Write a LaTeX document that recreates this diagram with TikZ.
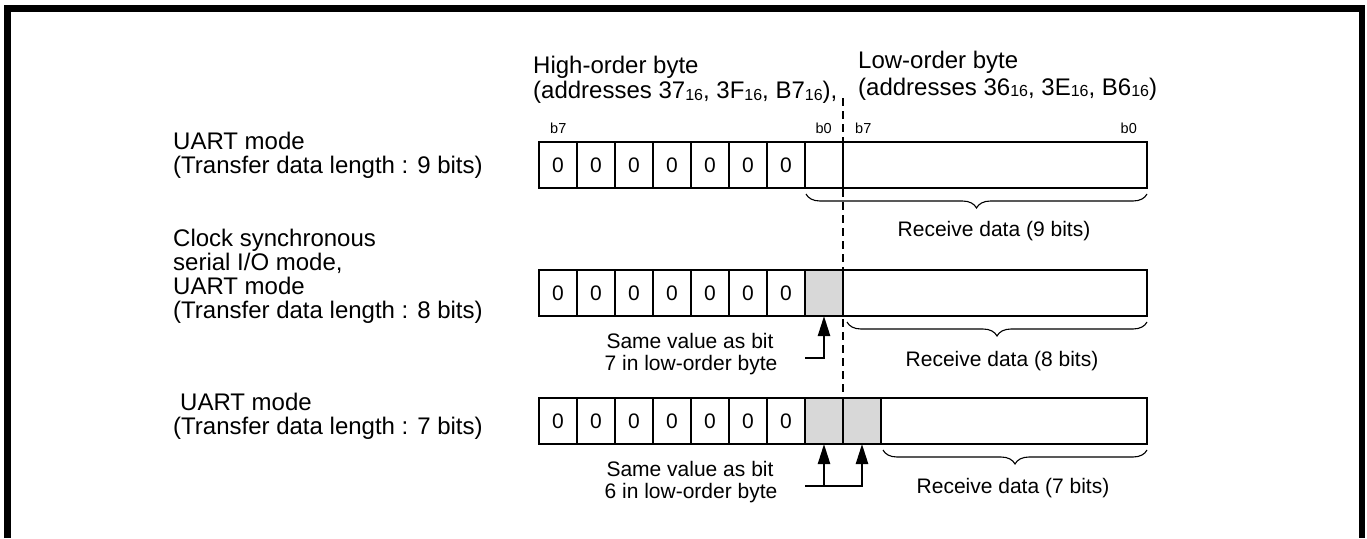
\documentclass[tikz,border=0pt]{standalone}
\usepackage{fontspec}
\setmainfont{Liberation Sans}
\usetikzlibrary{arrows.meta,decorations.pathreplacing}
\definecolor{cellgray}{RGB}{216,216,216}
\newcommand{\hexsub}[1]{\raisebox{-1.5pt}{\fontsize{16}{16}\selectfont #1}}
\begin{document}
\begin{tikzpicture}[x=1pt,y=-1pt,
  cell/.style={draw, line width=2pt, minimum width=38pt, minimum height=46pt,
    inner sep=0pt, outer sep=0pt, anchor=north west, font=\fontsize{21}{21}\selectfont},
  hdr/.style={inner sep=0pt, font=\fontsize{24}{26}\selectfont},
  lbl/.style={inner sep=0pt, anchor=base west, font=\fontsize{24}{26}\selectfont},
  sm/.style={inner sep=0pt, anchor=base, font=\fontsize{21}{22}\selectfont},
  blbl/.style={inner sep=0pt, font=\fontsize{14.5}{15}\selectfont},
  bracestyle/.style={decorate, decoration={brace, mirror, amplitude=14pt}, line width=1.1pt},
  arr/.style={line width=2.4pt, -{Triangle[length=20pt,width=12pt]}},
  frameline/.style={line width=6.5pt},
  divline/.style={line width=2pt, dash pattern=on 8pt off 5pt}
]
\useasboundingbox (0,0) rectangle (1367,538);
% frame (open at the bottom)
\draw[frameline] (7.5,538) -- (7.5,8.5) -- (1362,8.5) -- (1362,538);

% headers
\node[hdr, anchor=base west] (hi1) at (533,73.5) {High-order byte};
\node[hdr, anchor=base west] (hi2) at (533,98.5) {(addresses 37\hexsub{16}, 3F\hexsub{16}, B7\hexsub{16}),};
\node[hdr, anchor=base west] (lo1) at (858,68.5) {Low-order byte};
\node[hdr, anchor=base west] (lo2) at (858,95) {(addresses 36\hexsub{16}, 3E\hexsub{16}, B6\hexsub{16})};

% bit labels
\node[blbl, anchor=base west] (b7h) at (550,133) {b7};
\node[blbl, anchor=base east] (b0h) at (832,133) {b0};
\node[blbl, anchor=base west] (b7l) at (855,133) {b7};
\node[blbl, anchor=base east] (b0l) at (1137,133) {b0};

% left labels
\node[lbl] (m1a) at (173,149.5) {UART mode};
\node[lbl] (m1b) at (173,173.5) {(Transfer data length : 9 bits)};
\node[lbl] (m2a) at (173,246.5) {Clock synchronous};
\node[lbl] (m2b) at (173,270.5) {serial I/O mode,};
\node[lbl] (m2c) at (173,294.5) {UART mode};
\node[lbl] (m2d) at (173,318.5) {(Transfer data length : 8 bits)};
\node[lbl] (m3a) at (180,410.5) {UART mode};
\node[lbl] (m3b) at (173,434.5) {(Transfer data length : 7 bits)};

% registers
\foreach \r/\t in {1/142,2/270,3/398} {
  \foreach \i in {1,...,7} {
    \node[cell] (r\r c\i) at ({539+38*(\i-1)},\t) {0};
  }
}
\node[cell] (r1c8) at (805,142) {};
\node[cell, minimum width=304pt] (r1lo) at (843,142) {};
\node[cell, fill=cellgray] (r2c8) at (805,270) {};
\node[cell, minimum width=304pt] (r2lo) at (843,270) {};
\node[cell, fill=cellgray] (r3c8) at (805,398) {};
\node[cell, fill=cellgray] (r3c9) at (843,398) {};
\node[cell, minimum width=266pt] (r3lo) at (881,398) {};

% dashed divider
\coordinate (dtop) at (843,98);
\draw[divline] (dtop) -- (r3c9.north west);

% braces
\draw[bracestyle] ([xshift=1pt,yshift=-6pt]r1c8.south west) -- ([yshift=-6pt]r1lo.south east);
\draw[bracestyle] ([xshift=4pt,yshift=-6pt]r2lo.south west) -- ([yshift=-6pt]r2lo.south east);
\draw[bracestyle] ([xshift=2pt,yshift=-6pt]r3lo.south west) -- ([yshift=-6pt]r3lo.south east);

\node[sm] (rd1) at (994,236.5) {Receive data (9 bits)};
\node[sm] (rd2) at (1002,366.5) {Receive data (8 bits)};
\node[sm] (rd3) at (1013,493.5) {Receive data (7 bits)};

% notes and arrows
\node[sm] (sv2a) at (690,348.5) {Same value as bit};
\node[sm] (sv2b) at (691,370.5) {7 in low-order byte};
\node[sm] (sv3a) at (690,476.5) {Same value as bit};
\node[sm] (sv3b) at (691,498.5) {6 in low-order byte};

\coordinate (e2a) at (805,358);
\coordinate (e2b) at (824,358);
\draw[arr] (e2a) -- (e2b) -- (r2c8.south);

\coordinate (e3a) at (805,486);
\coordinate (e3b) at (824,486);
\coordinate (e3c) at (862,486);
\draw[arr] (e3a) -- (e3c) -- (r3c9.south);
\draw[arr] (e3b) -- (r3c8.south);
\end{tikzpicture}
\end{document}
